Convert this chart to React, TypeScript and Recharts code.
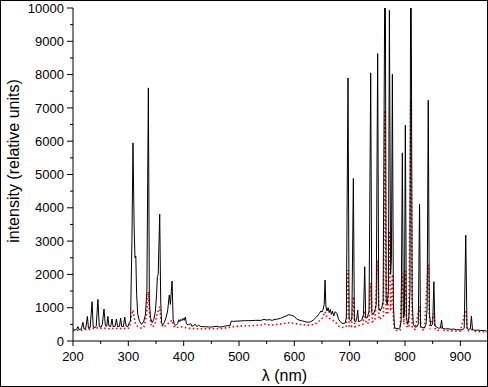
import React from "react";
import { LineChart, Line, XAxis, YAxis } from "recharts";

// black (solid) spectrum: wavelength (nm) and intensity
const blackWl = [
  200, 203, 206, 209, 211, 215, 218, 220, 223, 226, 228, 231, 234.5, 236.5, 240, 242, 245, 247.5, 251, 253,
  256, 258.5, 261, 263, 265, 268, 270.5, 272.5, 276, 278.5, 280.5, 284, 286, 288, 291, 293.5, 296, 299, 301, 304,
  306.5, 308.4, 310.5, 312, 313.5, 315, 317, 320, 324, 328, 331, 333.5, 336.2, 338, 340, 343, 346, 349, 351, 352.5,
  354, 356.7, 358.5, 360, 362, 365, 368, 371, 374, 376, 379, 381, 383, 386, 389, 391, 393, 395, 397, 399,
  401, 403, 405, 408, 410, 413, 415, 418, 421, 424, 427, 430, 435, 440, 445, 450, 455, 460, 465, 470,
  475, 480, 484, 486, 490, 500, 510, 520, 530, 540, 545, 550, 555, 560, 565, 570, 575, 580, 585, 590,
  595, 600, 605, 610, 615, 620, 625, 630, 635, 640, 645, 648, 650, 652, 654, 655.5, 657, 659, 661, 663,
  665, 667, 669, 671, 674, 677, 680, 684, 688, 692, 694, 697, 699, 702, 704, 706.7, 708.5, 711, 713, 714.6,
  716, 719, 722, 725, 727.2, 729, 732, 735, 738, 740, 743, 746, 748, 750.6, 752.5, 755, 758, 760.5, 763.2, 764.6, 766,
  768, 770, 771.8, 774, 775.5, 777.2, 779, 781, 784, 788, 791, 793, 795.2, 797, 799, 800.6, 802.5, 805, 807, 809,
  810, 811.3, 813, 815, 818, 821, 824, 826.3, 828, 831, 835, 838, 840, 842, 844, 847, 850, 852.2, 854, 857, 861,
  864, 866.1, 868, 873, 878, 883, 888, 893, 898, 903, 907, 909.8, 912, 915, 918, 920, 922, 927, 932, 937,
  942, 947, 950,
];
const blackVal = [
  380, 330, 340, 430, 340, 360, 560, 360, 380, 740, 380, 400, 1180, 420, 400, 450, 1250, 430, 420, 500,
  960, 460, 440, 740, 450, 430, 660, 430, 440, 660, 430, 440, 690, 440, 430, 720, 450, 430, 520, 600,
  3030, 5950, 3400, 2500, 2550, 1400, 800, 600, 500, 600, 800, 1500, 7600, 1200, 700, 550, 650, 900, 1400, 1930,
  2000, 3810, 1200, 550, 480, 550, 700, 900, 1380, 1100, 1800, 650, 500, 470, 520, 640, 580, 650, 610, 680,
  620, 720, 520, 480, 500, 520, 440, 470, 500, 430, 480, 440, 430, 430, 420, 420, 430, 440, 420, 430,
  450, 460, 470, 600, 590, 600, 610, 610, 620, 620, 650, 630, 640, 620, 650, 660, 680, 720, 750, 790,
  770, 740, 650, 620, 600, 580, 560, 580, 640, 720, 820, 900, 870, 950, 1100, 1830, 1050, 900, 1000, 850,
  950, 800, 900, 750, 880, 820, 650, 560, 520, 540, 700, 7900, 650, 600, 700, 4880, 600, 580, 700, 930,
  580, 600, 630, 800, 2230, 700, 700, 900, 8050, 850, 800, 950, 1100, 8630, 1000, 900, 1000, 1200, 10000, 10000, 1200,
  1100, 1500, 9930, 2000, 2500, 8010, 1100, 400, 380, 370, 400, 600, 5650, 700, 800, 6480, 700, 500, 700, 1500,
  10000, 10000, 1200, 500, 420, 420, 500, 4110, 450, 400, 400, 500, 1000, 7230, 800, 450, 500, 1780, 450, 420, 380,
  400, 630, 380, 360, 370, 350, 360, 340, 340, 330, 380, 3180, 380, 350, 360, 750, 340, 320, 330, 310,
  320, 300, 300,
];

// red (dotted) spectrum: wavelength (nm) and intensity
const redWl = [
  200, 205, 210, 215, 220, 225, 230, 235, 240, 245, 250, 255, 260, 265, 270, 275, 280, 285, 290, 295,
  300, 303, 306, 308.4, 310, 313, 318, 324, 328, 332, 334, 336.2, 338, 341, 344, 348, 351, 354, 356.7, 359,
  362, 366, 370, 374, 379, 382, 386, 392, 398, 404, 410, 420, 430, 440, 450, 460, 470, 480, 490, 500,
  510, 520, 530, 540, 545, 550, 560, 570, 580, 590, 600, 610, 620, 630, 640, 645, 650, 655.5, 658, 662,
  666, 670, 675, 680, 685, 690, 694, 697, 699, 703, 706.7, 709, 714, 720, 724, 727.2, 730, 735, 738, 741,
  746, 750.6, 753, 758, 761, 763.8, 766, 769, 771.8, 774, 777.2, 779, 781, 786, 791, 795.2, 798, 800.6, 803, 807,
  810.5, 813, 818, 826.3, 829, 835, 842, 845, 852.2, 855, 860, 866.1, 870, 880, 890, 900, 909.8, 913, 920, 925,
  935, 945, 950,
];
const redVal = [
  320, 310, 330, 320, 340, 350, 350, 380, 370, 400, 380, 390, 380, 370, 390, 360, 380, 370, 390, 370,
  380, 500, 800, 930, 750, 500, 420, 380, 420, 700, 1000, 1480, 900, 500, 420, 500, 750, 900, 1030, 600,
  420, 450, 500, 550, 630, 450, 400, 420, 430, 400, 380, 370, 360, 370, 370, 370, 380, 400, 430, 450,
  460, 460, 470, 480, 520, 490, 480, 500, 520, 550, 530, 500, 480, 470, 530, 600, 680, 880, 750, 700,
  650, 620, 550, 450, 420, 400, 450, 2130, 420, 430, 1330, 430, 450, 480, 500, 900, 520, 550, 1740, 580,
  620, 2430, 650, 700, 750, 6930, 800, 850, 3300, 900, 2000, 700, 330, 320, 330, 2030, 500, 2100, 450, 400,
  7230, 400, 350, 1030, 350, 330, 2300, 350, 830, 330, 320, 400, 320, 310, 300, 300, 930, 300, 350, 290,
  280, 280, 280,
];

const xTicks = [200, 250, 300, 350, 400, 450, 500, 550, 600, 650, 700, 750, 800, 850, 900, 950];
const yTicks = [0, 500, 1000, 1500, 2000, 2500, 3000, 3500, 4000, 4500, 5000, 5500, 6000, 6500, 7000, 7500, 8000, 8500, 9000, 9500, 10000];

const blackData = blackWl.map((w, i) => ({ wl: w, v: blackVal[i] }));
const redData = redWl.map((w, i) => ({ wl: w, v: redVal[i] }));

const FONT = "'Liberation Sans', Arial, sans-serif";

const YTick = (props: any) => {
  const { x, y, payload } = props;
  const v = payload.value as number;
  const major = v % 1000 === 0;
  return (
    <g>
      <line x1={x - (major ? 6 : 3)} x2={x} y1={y} y2={y} stroke="#000" strokeWidth={1} />
      {major && (
        <text x={x - 9} y={y} dy="0.36em" textAnchor="end" fontSize={13} fontFamily={FONT} fill="#000">
          {v}
        </text>
      )}
    </g>
  );
};

const XTick = (props: any) => {
  const { x, y, payload } = props;
  const v = payload.value as number;
  const major = v % 100 === 0;
  return (
    <g>
      <line x1={x} x2={x} y1={y} y2={y + (major ? 5 : 3)} stroke="#000" strokeWidth={1} />
      {major && v < 950 && (
        <text x={x} y={y + 20} textAnchor="middle" fontSize={13} fontFamily={FONT} fill="#000">
          {v}
        </text>
      )}
    </g>
  );
};

const YLabel = (props: any) => {
  const vb = props.viewBox || { x: 0, y: 8, width: 73, height: 333 };
  const cx = vb.x + 13;
  const cy = 161;
  return (
    <text
      x={cx}
      y={cy}
      transform={`rotate(-90 ${cx} ${cy})`}
      textAnchor="middle"
      dominantBaseline="central"
      fontSize={16}
      fontFamily={FONT}
      fill="#000"
    >
      intensity (relative units)
    </text>
  );
};

const XLabel = (props: any) => {
  const vb = props.viewBox || { x: 73, y: 341, width: 415, height: 46 };
  return (
    <text x={vb.x + vb.width / 2 + 4} y={vb.y + 40} textAnchor="middle" fontSize={16} fontFamily={FONT} fill="#000">
      λ (nm)
    </text>
  );
};

export default function App() {
  return (
    <div style={{ position: "fixed", left: 0, top: 0, width: 488, height: 387, background: "#fff" }}>
      <LineChart width={488} height={387} margin={{ top: 8, right: 0, bottom: 0, left: 0 }}>
        <XAxis
          dataKey="wl"
          type="number"
          domain={[200, 950]}
          ticks={xTicks}
          allowDataOverflow
          height={46}
          tickSize={0}
          tickMargin={0}
          tickLine={false}
          axisLine={{ stroke: "#000", strokeWidth: 1 }}
          tick={<XTick />}
          interval={0}
          label={{ content: <XLabel /> }}
        />
        <YAxis
          dataKey="v"
          type="number"
          domain={[0, 10000]}
          ticks={yTicks}
          allowDataOverflow
          width={73}
          tickSize={0}
          tickMargin={0}
          tickLine={false}
          axisLine={{ stroke: "#000", strokeWidth: 1 }}
          tick={<YTick />}
          interval={0}
          label={{ content: <YLabel /> }}
        />
        <Line
          data={redData}
          dataKey="v"
          type="linear"
          stroke="#ff0000"
          strokeWidth={1.6}
          strokeDasharray="1.5 2.5"
          dot={false}
          activeDot={false}
          isAnimationActive={false}
        />
        <Line
          data={blackData}
          dataKey="v"
          type="linear"
          stroke="#000"
          strokeWidth={1}
          dot={false}
          activeDot={false}
          isAnimationActive={false}
        />
      </LineChart>
      <div
        style={{
          position: "absolute",
          left: 0,
          top: 0,
          width: 488,
          height: 387,
          boxSizing: "border-box",
          border: "1px solid #000",
          pointerEvents: "none",
        }}
      />
    </div>
  );
}
